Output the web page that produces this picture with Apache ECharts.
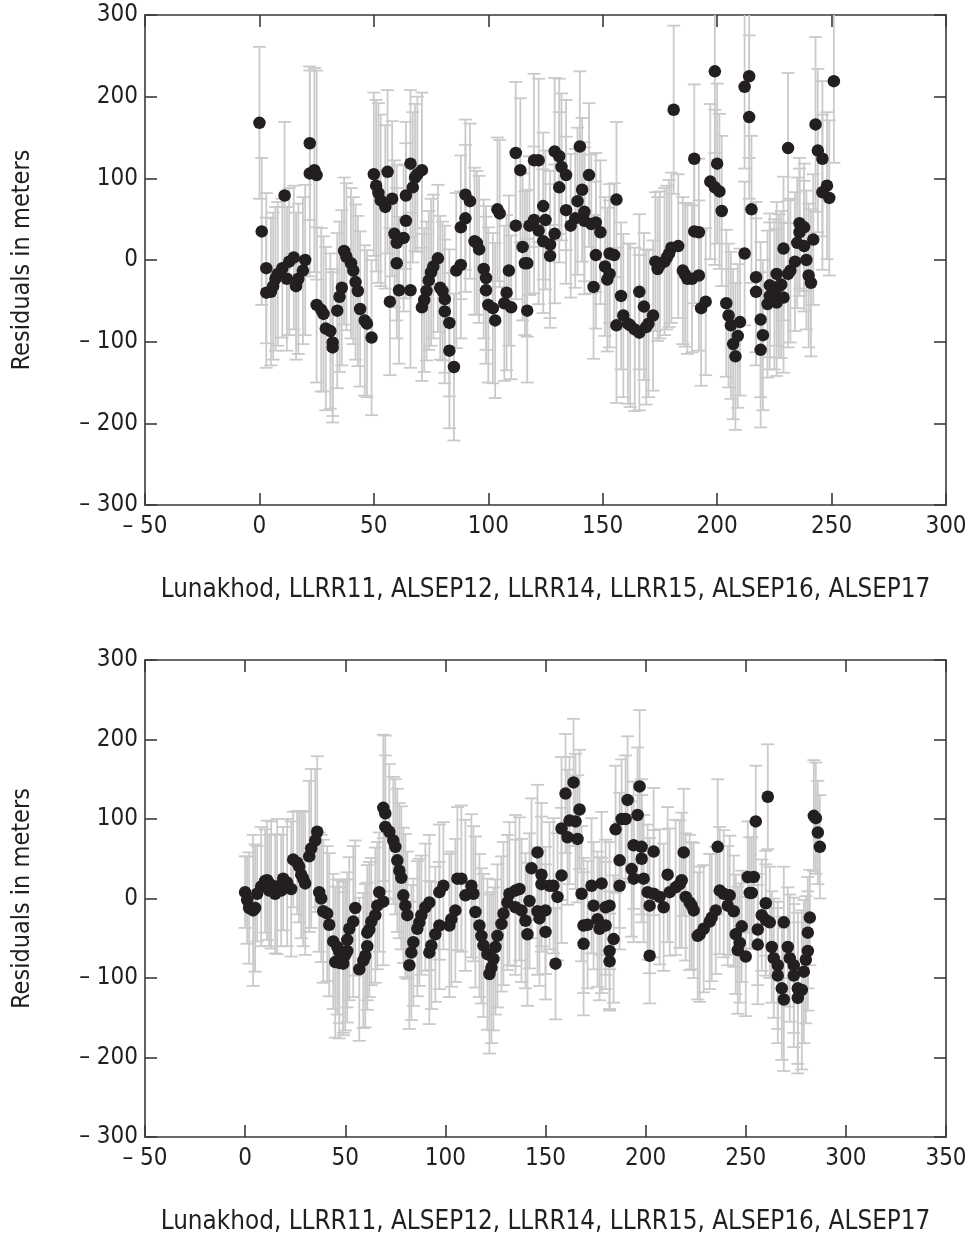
<!DOCTYPE html>
<html>
<head>
<meta charset="utf-8">
<script src="https://cdn.jsdelivr.net/npm/echarts@6/dist/echarts.min.js"></script>
<style>
html,body{margin:0;padding:0;background:#fff;}
#chart{width:976px;height:1238px;}
</style>
</head>
<body>
<div id="chart"></div>
<script>
// ---------- data: top panel ----------
const topX = [0,1,3,3,5,6,7,8,10,11, 12,13,15,16,17,19,20,22,22,24, 25,25,27,28,29,31,32,32,34,35,
  36,37,38,40,41,42,43,44,46,47, 49,50,51,52,53,55,56,57,58,59, 60,60,61,63,64,64,66,66,67,68,
  69,71,71,72,73,74,75,76,78,79, 80,81,81,83,83,85,86,88,88,90, 90,92,94,95,96,98,99,99,100,102,
  103,104,105,107,108,109,110,112,112,114, 115,116,117,117,118,120,120,122,122,124,
  124,125,127,127,129,129,131,131,132,134, 134,136,138,139,140,141,142,142,144,145,
  146,147,147,149,151,152,153,153,155,156, 156,158,159,161,162,164,166,166,168,169,
  170,172,173,174,175,177,178,179,180,181, 183,185,186,187,189,190,190,192,192,193,
  195,197,199,199,200,201,202,204,205,206, 207,208,209,210,212,212,214,214,215,217,
  217,219,219,220,222,223,223,225,226,226, 227,228,229,229,231,231,232,234,235,236,
  236,238,238,239,240,241,242,243,244,246, 246,248,249,251];
const topY = [168,35,-10,-40,-39,-32,-23,-17,-10,79, -23,-2,3,-32,-23,-13,0,143,106,110,
  104,-55,-61,-66,-84,-87,-101,-107,-62,-45, -34,11,4,-4,-13,-27,-38,-60,-74,-78,
  -95,105,91,82,73,65,108,-51,75,32, 21,-4,-37,27,48,79,-37,118,89,101,
  105,110,-58,-49,-38,-25,-15,-8,2,-34, -38,-48,-63,-77,-111,-131,-13,-6,40,51,
  80,72,23,21,13,-11,-22,-37,-55,-59, -74,62,57,-53,-40,-13,-58,42,131,110,
  16,-4,-4,-62,42,49,122,122,36,23, 66,49,5,19,32,133,127,89,114,104,
  61,42,51,72,139,86,59,48,104,44, -33,46,6,34,-8,-24,-17,8,6,74,
  -80,-44,-68,-78,-80,-85,-39,-89,-57,-82, -78,-68,-2,-11,-6,-2,3,8,15,184,
  17,-13,-18,-23,-23,124,35,-19,34,-59, -51,96,231,89,118,84,60,-53,-68,-80,
  -103,-118,-93,-76,8,212,175,225,62,-21, -39,-73,-110,-92,-54,-31,-44,-42,-52,-17,
  -32,-30,-46,14,137,-17,-13,-2,21,34, 45,40,17,0,-19,-28,25,166,134,124,
  83,91,76,219];
const topErr = [93,90,92,92,90,90,88,88,85,90, 88,90,88,90,92,90,92,94,126,125,
  128,95,100,95,100,95,90,92,95,92, 95,90,90,92,90,95,92,95,92,90,
  95,100,105,110,105,100,100,90,95,90, 95,92,90,90,95,90,95,90,92,90,
  95,95,90,88,85,85,90,88,90,88, 85,90,88,90,95,90,95,90,88,90,
  92,95,90,88,90,85,88,90,95,92, 95,88,90,95,95,92,88,90,87,88,
  90,88,90,88,85,90,106,100,90,88, 90,85,88,90,85,90,95,92,90,92,
  90,88,85,90,92,88,85,90,88,85, 88,85,90,88,85,88,90,85,88,95,
  95,90,100,98,100,100,95,95,90,95, 90,92,85,88,90,90,88,90,92,103,
  88,90,88,92,90,91,88,92,90,95, 90,95,100,95,98,95,92,90,88,90,
  92,90,88,90,88,100,100,100,90,92, 90,95,95,92,90,88,90,92,90,88,
  88,90,92,88,92,90,88,85,80,78, 80,78,80,85,88,90,80,107,100,95,
  95,90,95,100];

// ---------- data: bottom panel ----------
const botX = [0,1,2,4,5,6,8,10,11,12, 13,15,16,18,19,21,23,24,26,27, 28,29,30,32,33,35,36,37,38,39,
  41,42,44,45,46,47,47,49,49,50, 51,51,52,54,55,57,59,60,61,61, 62,63,65,66,67,69,69,70,70,72,
  74,75,76,77,78,79,80,81,82,83, 84,86,87,88,90,92,92,93,95,97, 97,99,102,103,105,106,108,110,113,114,
  115,117,118,119,121,122,123,124,125,126, 128,129,131,132,135,137,135,138,140,141,
  142,143,146,146,147,148,148,150,150,152, 154,155,156,158,158,160,161,162,164,165,
  166,167,168,169,169,171,173,174,176,177, 178,178,180,180,182,182,182,184,185,187,
  187,188,190,191,193,194,194,196,197,198, 198,199,201,202,202,204,204,207,209,211,
  212,215,217,218,219,220,222,223,224,226, 227,229,232,233,235,236,237,239,241,242,
  244,245,246,247,248,250,251,252,253,254, 255,256,256,258,260,260,261,262,263,264,
  266,266,268,269,269,271,272,274,274,276, 276,278,279,280,281,281,282,284,285,286,
  287];
const botY = [8,-2,-12,-15,-12,6,15,22,23,10, 17,6,15,10,25,20,12,49,45,40, 30,25,19,53,63,73,84,8,0,-16,
  -19,-33,-54,-80,-61,-67,-81,-74,-82,-71, -52,-66,-38,-29,-12,-89,-78,-72,-60,-43,
  -39,-29,-21,-9,8,-4,114,107,90,84, 73,65,48,35,26,4,-9,-21,-84,-68,
  -55,-38,-30,-21,-11,-5,-68,-59,-45,-34, 8,16,-34,-26,-15,25,25,4,16,6,
  -17,-34,-47,-59,-70,-95,-87,-76,-61,-47, -32,-19,-5,6,10,12,-11,-15,-28,-45,
  -3,38,58,-16,-25,30,18,-15,-42,16, 16,-82,2,29,88,132,77,98,146,97,
  75,112,6,-57,-34,-33,16,-9,-26,-38, -34,19,-34,-11,-9,-79,-66,-51,87,48,
  16,100,100,124,37,25,67,105,141,50, 65,25,8,-72,-9,6,59,2,-11,30,
  8,14,18,23,58,2,-5,-9,-15,-47, -45,-38,-29,-24,-15,65,10,6,-9,4,
  -16,-45,-65,-56,-35,-73,27,7,7,27, 97,-58,-39,-21,-6,-27,128,-30,-61,-75,
  -84,-97,-113,-127,-30,-61,-75,-84,-97,-113, -125,-115,-92,-77,-66,-43,-24,104,101,83,
  65];
const botErr = [45,55,70,95,80,60,75,65,75,70, 80,75,85,70,65,80,85,60,65,70,
  80,85,90,95,100,90,95,75,80,90, 85,90,85,95,85,90,95,95,90,95,
  85,90,90,95,85,90,85,90,80,85, 85,80,85,80,75,80,92,98,90,85,
  80,85,90,85,90,85,90,80,80,85, 80,85,80,75,80,85,90,80,85,80,
  85,80,90,85,90,90,92,95,90,85, 95,90,85,90,95,100,95,90,85,90,
  85,90,85,90,95,90,85,90,85,90, 85,88,85,80,85,90,85,80,85,80,
  85,70,80,85,90,75,85,80,80,85, 80,75,85,90,85,80,85,80,85,90,
  85,90,80,85,80,60,75,80,80,85, 80,75,80,80,85,80,80,85,96,80,
  85,80,85,60,85,80,80,85,80,85, 80,85,80,85,80,80,85,80,85,80,
  85,80,85,80,80,85,80,80,75,75, 70,75,80,75,70,75,70,70,70,70,
  70,75,70,70,66,70,66,70,70,75, 80,85,90,90,70,75,80,85,90,95,
  95,100,90,80,75,70,60,70,70,65, 65];

// ---------- tick labels ----------
const yTicks = [-300,-200,-100,0,100,200,300];
const topXTicks = [-50,0,50,100,150,200,250,300];
const botXTicks = [-50,0,50,100,150,200,250,300,350];
const xTitle = 'Lunakhod, LLRR11, ALSEP12, LLRR14, LLRR15, ALSEP16, ALSEP17';
const yTitle = 'Residuals in meters';

const ink = '#231f20';
const frame = '#3a3a3a';
const barColor = '#cacaca';
const fontFamily = '"DejaVu Sans Condensed", "DejaVu Sans", sans-serif';
const fmt = v => v < 0 ? '\u2013 ' + Math.abs(v) : String(v);

function xAxes(grid, ticks, showLabel, position) {
  return {
    type: 'value', gridIndex: grid, position: position,
    min: ticks[0], max: ticks[ticks.length - 1], interval: 50,
    axisLine: {show: true, onZero: false, lineStyle: {color: frame, width: 1.6}},
    axisTick: {show: true, inside: true, length: 12, lineStyle: {color: frame, width: 1.6}},
    axisLabel: {show: showLabel, formatter: fmt, fontSize: 24, color: ink, fontFamily, margin: 10},
    splitLine: {show: false},
    name: showLabel ? xTitle : '',
    nameLocation: 'middle', nameGap: 72,
    nameTextStyle: {fontSize: 25.8, color: ink, fontFamily}
  };
}
function yAxes(grid, showLabel, position) {
  return {
    type: 'value', gridIndex: grid, position: position,
    min: yTicks[0], max: yTicks[yTicks.length - 1], interval: 100,
    axisLine: {show: true, onZero: false, lineStyle: {color: frame, width: 1.6}},
    axisTick: {show: true, inside: true, length: 12, lineStyle: {color: frame, width: 1.6}},
    axisLabel: {show: showLabel, formatter: fmt, fontSize: 24, color: ink, fontFamily, margin: 7},
    splitLine: {show: false},
    name: showLabel ? yTitle : '',
    nameLocation: 'middle', nameGap: 110, nameRotate: 90,
    nameTextStyle: {fontSize: 25, color: ink, fontFamily}
  };
}

function errRender(params, api) {
  const x = api.value(0), y = api.value(1), e = api.value(2);
  const hi = api.coord([x, y + e]);
  const lo = api.coord([x, y - e]);
  const w = 6.5;
  const st = {stroke: barColor, lineWidth: 1.8};
  return {
    type: 'group',
    children: [
      {type: 'line', shape: {x1: hi[0], y1: hi[1], x2: lo[0], y2: lo[1]}, style: st},
      {type: 'line', shape: {x1: hi[0] - w, y1: hi[1], x2: hi[0] + w, y2: hi[1]}, style: st},
      {type: 'line', shape: {x1: lo[0] - w, y1: lo[1], x2: lo[0] + w, y2: lo[1]}, style: st}
    ]
  };
}

const topData = topX.map((x, i) => [x, topY[i], topErr[i]]);
const botData = botX.map((x, i) => [x, botY[i], botErr[i]]);

const chart = echarts.init(document.getElementById('chart'), null, {renderer: 'canvas'});
chart.setOption({
  animation: false,
  backgroundColor: '#ffffff',
  grid: [
    {left: 145, right: 30, top: 15, height: 490},
    {left: 145, right: 30, top: 660, height: 477}
  ],
  xAxis: [
    xAxes(0, topXTicks, true, 'bottom'),
    xAxes(0, topXTicks, false, 'top'),
    xAxes(1, botXTicks, true, 'bottom'),
    xAxes(1, botXTicks, false, 'top')
  ],
  yAxis: [
    yAxes(0, true, 'left'),
    yAxes(0, false, 'right'),
    yAxes(1, true, 'left'),
    yAxes(1, false, 'right')
  ],
  series: [
    {type: 'custom', xAxisIndex: 0, yAxisIndex: 0, renderItem: errRender, data: topData,
     encode: {x: 0, y: 1}, clip: true, z: 1, silent: true},
    {type: 'scatter', xAxisIndex: 0, yAxisIndex: 0, data: topData.map(d => [d[0], d[1]]),
     symbol: 'circle', symbolSize: 12.5, itemStyle: {color: ink, opacity: 1}, z: 3, silent: true},
    {type: 'custom', xAxisIndex: 2, yAxisIndex: 2, renderItem: errRender, data: botData,
     encode: {x: 0, y: 1}, clip: true, z: 1, silent: true},
    {type: 'scatter', xAxisIndex: 2, yAxisIndex: 2, data: botData.map(d => [d[0], d[1]]),
     symbol: 'circle', symbolSize: 12.5, itemStyle: {color: ink, opacity: 1}, z: 3, silent: true}
  ]
});
</script>
</body>
</html>
